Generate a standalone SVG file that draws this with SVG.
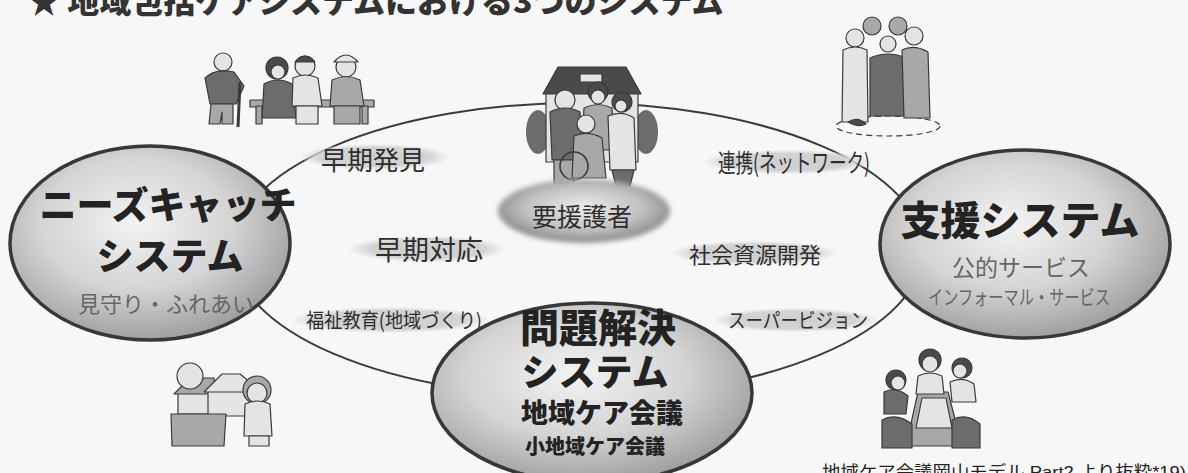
<svg xmlns="http://www.w3.org/2000/svg" width="1188" height="473" viewBox="0 0 1188 473">
  <defs>
    <radialGradient id="sysFill" cx="45%" cy="40%" r="62%">
      <stop offset="0" stop-color="#f3f3f3"/>
      <stop offset="0.55" stop-color="#d4d4d4"/>
      <stop offset="1" stop-color="#9c9c9c"/>
    </radialGradient>
    <radialGradient id="hubFill" cx="50%" cy="45%" r="55%">
      <stop offset="0" stop-color="#eeeeee"/>
      <stop offset="0.6" stop-color="#c2c2c2"/>
      <stop offset="1" stop-color="#888888"/>
    </radialGradient>
    <radialGradient id="tagFill" cx="50%" cy="50%" r="50%">
      <stop offset="0" stop-color="#cfcfcf"/>
      <stop offset="0.75" stop-color="#d3d3d3"/>
      <stop offset="1" stop-color="#e2e2e2" stop-opacity="0.2"/>
    </radialGradient>
    <filter id="soft" x="-10%" y="-20%" width="120%" height="140%">
      <feGaussianBlur stdDeviation="2.5"/>
    </filter>
  </defs>
  <style>
    .sys { fill: url(#sysFill); stroke: #383838; stroke-width: 3.5; }
    .hub { fill: url(#hubFill); filter: url(#soft); }
    .tag { fill: url(#tagFill); }
    .ring { fill: none; stroke: #3c3c3c; stroke-width: 2; }
    .big { font-family: "Noto Sans CJK JP", sans-serif; font-weight: 900; fill: #232323; text-anchor: middle; }
    .sub { font-family: "Noto Sans CJK JP", sans-serif; fill: #666666; text-anchor: middle; }
    .txt { font-family: "Noto Sans CJK JP", sans-serif; fill: #2e2e2e; text-anchor: middle; }
    .ink { stroke: #3a3a3a; stroke-width: 1.2; stroke-linejoin: round; }
    .lt { fill: #e4e4e4; }
    .md { fill: #a8a8a8; }
    .dk { fill: #6c6c6c; }
    .xd { fill: #4a4a4a; }
  </style>

  <!-- paper -->
  <rect width="1188" height="473" fill="#f7f7f7"/>

  <!-- title (top edge runs off the sheet) -->
  <text x="28" y="13" font-family="'Noto Sans CJK JP', sans-serif" font-weight="900" font-size="32" fill="#333">★ 地域包括ケアシステムにおける3つのシステム</text>

  <!-- connecting ring -->
  <g id="connectors">
    <ellipse class="ring" cx="578" cy="250" rx="345" ry="147"/>
  </g>

  <!-- clip-art: seniors on a bench -->
  <g id="art-bench" class="ink">
    <rect class="md" x="250" y="100" width="124" height="7"/>
    <rect class="md" x="256" y="106" width="6" height="18"/>
    <rect class="md" x="362" y="106" width="6" height="18"/>
    <circle class="lt" cx="223" cy="62" r="9"/>
    <path class="dk" d="M205 78 Q215 68 234 72 L244 86 L236 104 L210 104 Z"/>
    <path class="md" d="M211 104 L233 104 L233 124 L222 124 L222 112 L220 124 L209 124 Z"/>
    <line x1="240" y1="82" x2="238" y2="127" stroke-width="3"/>
    <circle class="xd" cx="277" cy="68" r="11"/>
    <circle class="lt" cx="278" cy="72" r="7"/>
    <path class="dk" d="M264 84 Q278 76 292 84 L296 118 L262 118 Z"/>
    <circle class="lt" cx="305" cy="66" r="10"/>
    <path class="xd" d="M295 62 Q305 50 315 62 Z"/>
    <path class="lt" d="M293 78 Q305 72 318 78 L322 106 L292 106 Z"/>
    <rect class="lt" x="296" y="106" width="22" height="18"/>
    <circle class="lt" cx="346" cy="67" r="10"/>
    <path class="lt" d="M334 62 Q346 48 358 62 Z"/>
    <path class="md" d="M332 80 Q346 73 360 80 L364 106 L330 106 Z"/>
    <rect class="md" x="334" y="106" width="26" height="18"/>
  </g>

  <!-- clip-art: family at home -->
  <g id="art-home" class="ink">
    <ellipse class="dk" cx="538" cy="132" rx="12" ry="22" stroke="none"/>
    <ellipse class="dk" cx="646" cy="132" rx="12" ry="22" stroke="none"/>
    <rect class="lt" x="546" y="92" width="92" height="70"/>
    <path class="xd" d="M543 94 L558 67 L626 67 L641 94 Z"/>
    <rect class="lt" x="580" y="74" width="22" height="8"/>
    <circle class="lt" cx="565" cy="100" r="10"/>
    <path class="dk" d="M550 112 Q565 104 580 112 L582 160 L552 160 Z"/>
    <rect class="md" x="554" y="160" width="20" height="24"/>
    <circle class="xd" cx="598" cy="92" r="10"/>
    <circle class="lt" cx="598" cy="97" r="7"/>
    <path class="md" d="M584 108 Q598 101 612 108 L614 150 L582 150 Z"/>
    <circle class="xd" cx="622" cy="102" r="10"/>
    <circle class="lt" cx="621" cy="106" r="6"/>
    <path class="lt" d="M608 116 Q622 110 634 118 L636 170 L610 170 Z"/>
    <path class="dk" d="M612 170 L634 170 L630 186 L616 186 Z"/>
    <circle class="lt" cx="586" cy="124" r="9"/>
    <path class="md" d="M574 136 Q588 130 602 138 L606 178 L572 178 Z"/>
    <circle fill="none" cx="574" cy="166" r="14" stroke-width="1.6"/>
  </g>

  <!-- clip-art: group of supporters -->
  <g id="art-supporters" class="ink" stroke="#777">
    <ellipse fill="none" cx="888" cy="126" rx="52" ry="10" stroke-dasharray="6 4"/>
    <circle class="lt" cx="855" cy="38" r="9"/>
    <path class="lt" d="M843 50 Q855 44 867 50 L868 122 L842 122 Z"/>
    <circle class="md" cx="872" cy="26" r="9"/>
    <circle class="md" cx="898" cy="26" r="9"/>
    <circle class="lt" cx="888" cy="44" r="8"/>
    <path class="dk" d="M870 58 Q888 50 906 58 L908 116 L870 116 Z"/>
    <circle class="lt" cx="914" cy="36" r="9"/>
    <path class="md" d="M902 50 Q914 44 928 52 L930 118 L904 118 Z"/>
    <path class="xd" d="M848 122 Q858 116 866 124 Q858 128 848 122 Z"/>
  </g>

  <!-- clip-art: neighbourhood -->
  <g id="art-neighbourhood" class="ink">
    <rect class="lt" x="178" y="392" width="34" height="22"/>
    <path class="md" d="M174 394 L190 378 L214 378 L216 394 Z"/>
    <rect class="lt" x="208" y="390" width="50" height="26"/>
    <path class="lt" d="M204 392 L222 374 L240 374 L262 392 Z"/>
    <circle class="lt" cx="190" cy="376" r="13"/>
    <path class="md" d="M171 414 L226 414 L224 446 L172 446 Z"/>
    <circle class="md" cx="257" cy="390" r="14"/>
    <circle class="lt" cx="257" cy="393" r="10"/>
    <path class="lt" d="M245 404 Q257 398 270 404 L272 436 L244 436 Z"/>
    <rect class="lt" x="249" y="436" width="20" height="10"/>
  </g>

  <!-- clip-art: care conference -->
  <g id="art-meeting" class="ink">
    <path class="md" d="M918 392 L948 392 L962 446 L906 446 Z"/>
    <path class="lt" d="M922 398 L946 398 L952 428 L916 428 Z"/>
    <circle class="xd" cx="930" cy="360" r="11"/>
    <circle class="lt" cx="930" cy="364" r="8"/>
    <path class="lt" d="M918 376 Q930 370 942 376 L944 394 L916 394 Z"/>
    <circle class="xd" cx="896" cy="380" r="10"/>
    <circle class="lt" cx="898" cy="383" r="7"/>
    <path class="dk" d="M884 392 Q896 386 908 396 L906 414 L884 414 Z"/>
    <circle class="xd" cx="962" cy="368" r="10"/>
    <circle class="lt" cx="960" cy="371" r="7"/>
    <path class="lt" d="M950 382 Q962 376 974 384 L976 402 L952 402 Z"/>
    <path class="dk" d="M882 420 Q896 412 912 424 L912 448 L882 448 Z"/>
    <path class="dk" d="M952 420 Q966 412 980 424 L980 448 L952 448 Z"/>
  </g>

  <!-- relation tags on the ring -->
  <g id="tag-early-detection">
    <ellipse class="tag" cx="375" cy="157" rx="74" ry="13"/>
    <text class="txt" x="373" y="170" font-size="26">早期発見</text>
  </g>
  <g id="tag-early-response">
    <ellipse class="tag" cx="427" cy="249" rx="78" ry="13"/>
    <text class="txt" x="429" y="260" font-size="27">早期対応</text>
  </g>
  <g id="tag-welfare-education">
    <ellipse class="tag" cx="390" cy="320" rx="98" ry="13"/>
    <text class="txt" x="394" y="328" font-size="20" textLength="176" lengthAdjust="spacingAndGlyphs">福祉教育(地域づくり)</text>
  </g>
  <g id="tag-network">
    <ellipse class="tag" cx="788" cy="162" rx="84" ry="12"/>
    <text class="txt" x="794" y="172" font-size="25" textLength="152" lengthAdjust="spacingAndGlyphs">連携(ネットワーク)</text>
  </g>
  <g id="tag-resources">
    <ellipse class="tag" cx="754" cy="253" rx="82" ry="12"/>
    <text class="txt" x="755" y="263" font-size="22">社会資源開発</text>
  </g>
  <g id="tag-supervision">
    <ellipse class="tag" cx="795" cy="320" rx="82" ry="12"/>
    <text class="txt" x="798" y="328" font-size="20" textLength="140" lengthAdjust="spacingAndGlyphs">スーパービジョン</text>
  </g>

  <!-- needs catch system -->
  <g id="needs-catch">
    <ellipse class="sys" cx="150" cy="243" rx="140" ry="97"/>
    <text class="big" x="168" y="219" font-size="37">ニーズキャッチ</text>
    <text class="big" x="170" y="270" font-size="37">システム</text>
    <text class="sub" x="166" y="312" font-size="22">見守り・ふれあい</text>
  </g>

  <!-- support system -->
  <g id="support">
    <ellipse class="sys" cx="1025" cy="244" rx="145" ry="94"/>
    <text class="big" x="1020" y="235" font-size="40">支援システム</text>
    <text class="sub" x="1021" y="276" font-size="23" fill="#555">公的サービス</text>
    <text class="sub" x="1019" y="305" font-size="20" textLength="182" lengthAdjust="spacingAndGlyphs">インフォーマル・サービス</text>
  </g>

  <!-- problem solving system -->
  <g id="problem-solving">
    <ellipse class="sys" cx="592" cy="393" rx="160" ry="90"/>
    <text class="big" x="598" y="342" font-size="39">問題解決</text>
    <text class="big" x="595" y="386" font-size="37">システム</text>
    <text class="big" x="602" y="423" font-size="27" font-weight="700">地域ケア会議</text>
    <text class="big" x="595" y="454" font-size="20" font-weight="700">小地域ケア会議</text>
  </g>

  <!-- person needing support -->
  <g id="client">
    <ellipse class="hub" cx="584" cy="211" rx="86" ry="32"/>
    <text class="txt" x="582" y="226" font-size="25" fill="#222">要援護者</text>
  </g>

  <!-- source note (bottom edge runs off the sheet) -->
  <text x="822" y="478" font-family="'Liberation Sans', 'Noto Sans CJK JP', sans-serif" font-size="17" fill="#222" textLength="364" lengthAdjust="spacingAndGlyphs">地域ケア会議岡山モデル Part2 より抜粋*19)</text>
</svg>
